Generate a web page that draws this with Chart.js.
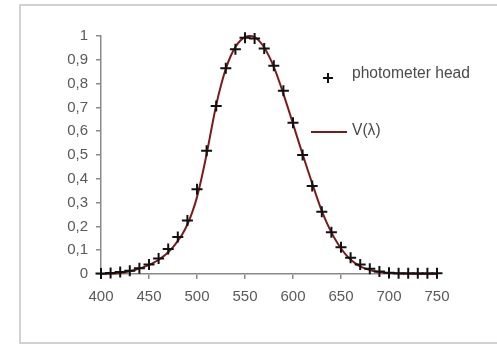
<!DOCTYPE html>
<html>
<head>
<meta charset="utf-8">
<script src="https://cdn.jsdelivr.net/npm/chart.js@4/dist/chart.umd.min.js"></script>
<style>
  html, body { margin: 0; padding: 0; background: #fff; overflow: hidden; }
  #frame { position: absolute; left: 19px; top: 4px; width: 500px; height: 336px; border: 2px solid #d2d2d2; }
  #c { position: absolute; left: 0; top: 0; }
</style>
</head>
<body>
<div id="frame"></div>
<canvas id="c" width="497" height="344"></canvas>
<script>
// Wavelengths (nm) of the photometer-head measurements
const headWavelengths = [400,410,420,430,440,450,460,470,480,490,500,510,520,530,540,550,560,570,580,590,600,610,620,630,640,650,660,670,680,690,700,710,720,730,740,750];
// Relative response of the photometer head
const headValues = [0.002,0.004,0.008,0.014,0.024,0.04,0.065,0.105,0.155,0.225,0.356,0.518,0.706,0.864,0.944,0.993,0.99,0.948,0.875,0.77,0.636,0.5,0.37,0.262,0.175,0.112,0.068,0.04,0.022,0.011,0.005,0.003,0.003,0.003,0.003,0.003];
// V(lambda) curve wavelengths (nm) and values
const vWavelengths = [400,405,410,415,420,425,430,435,440,445,450,455,460,465,470,475,480,485,490,495,500,505,510,515,520,525,530,535,540,545,550,555,560,565,570,575,580,585,590,595,600,605,610,615,620,625,630,635,640,645,650,655,660,665,670,675,680,685,690,695,700,710,720,730,740,750];
const vValues = [0.0004,0.0006,0.0012,0.0022,0.004,0.0073,0.0116,0.0168,0.023,0.0298,0.038,0.048,0.06,0.0739,0.091,0.1126,0.139,0.1693,0.208,0.2586,0.323,0.4073,0.503,0.6082,0.71,0.7932,0.862,0.9149,0.954,0.9803,0.995,1.0,0.995,0.9786,0.952,0.9154,0.87,0.8163,0.757,0.6949,0.631,0.5668,0.503,0.4412,0.381,0.321,0.265,0.217,0.175,0.1382,0.107,0.0816,0.061,0.0446,0.032,0.0232,0.017,0.0119,0.0082,0.0057,0.0041,0.0021,0.001,0.0005,0.0003,0.0001];
// Axis tick values
const xTicks = [400,450,500,550,600,650,700,750];
const yTicks = [0,0.1,0.2,0.3,0.4,0.5,0.6,0.7,0.8,0.9,1];
const seriesLabels = ['photometer head', 'V(\u03bb)'];

const headPts = headWavelengths.map((x, i) => ({x, y: headValues[i]}));
const vPts = vWavelengths.map((x, i) => ({x, y: vValues[i]}));

const tickFont = { family: 'Liberation Sans, Arial, sans-serif', size: 15 };
const tickColor = '#5a5a5a';
const axisColor = '#8a8a8a';

const legendPlugin = {
  id: 'customLegend',
  afterDraw(chart) {
    const ctx = chart.ctx;
    const ds = chart.data.datasets;
    ctx.save();
    // marker
    ctx.strokeStyle = '#111';
    ctx.lineWidth = 2;
    const mx = 328, my = 78, r = 5;
    ctx.beginPath();
    ctx.moveTo(mx - r, my); ctx.lineTo(mx + r, my);
    ctx.moveTo(mx, my - r); ctx.lineTo(mx, my + r);
    ctx.stroke();
    // line sample
    ctx.strokeStyle = ds[1].borderColor;
    ctx.lineWidth = 2;
    ctx.beginPath();
    ctx.moveTo(311, 132); ctx.lineTo(347, 132);
    ctx.stroke();
    ctx.fillStyle = '#4a4a4a';
    ctx.font = '15.6px Liberation Sans, Arial, sans-serif';
    ctx.textBaseline = 'middle';
    ctx.textAlign = 'left';
    ctx.fillText(ds[0].label, 352, 74);
    ctx.fillText(ds[1].label, 352, 131);
    ctx.restore();
  }
};

new Chart(document.getElementById('c'), {
  type: 'scatter',
  data: {
    datasets: [
      {
        label: seriesLabels[0],
        data: headPts,
        showLine: false,
        pointStyle: 'cross',
        pointRadius: 5.5,
        pointBorderWidth: 2,
        borderColor: '#111',
        backgroundColor: '#111',
        clip: false
      },
      {
        label: seriesLabels[1],
        data: vPts,
        showLine: true,
        borderColor: '#7d1b1b',
        borderWidth: 2,
        pointRadius: 0,
        tension: 0.3,
        cubicInterpolationMode: 'monotone',
        clip: false
      }
    ]
  },
  options: {
    responsive: false,
    animation: false,
    events: [],
    layout: { padding: { left: 0, top: 36, right: 60, bottom: 0 } },
    plugins: { legend: { display: false }, tooltip: { enabled: false } },
    scales: {
      x: {
        type: 'linear',
        min: 400, max: 750,
        afterBuildTicks(s) { s.ticks = xTicks.map(v => ({value: v})); },
        afterFit(s) { s.height = 70; },
        grid: { drawOnChartArea: false, drawTicks: true, tickLength: 5, color: axisColor, lineWidth: 1.5 },
        border: { display: true, color: axisColor, width: 1.5 },
        ticks: { color: tickColor, font: tickFont, padding: 9, maxRotation: 0, autoSkip: false }
      },
      y: {
        min: 0, max: 1,
        afterBuildTicks(s) { s.ticks = yTicks.map(v => ({value: v})); },
        afterFit(s) { s.width = 101; },
        grid: { drawOnChartArea: false, drawTicks: true, tickLength: 5, color: axisColor, lineWidth: 1.5 },
        border: { display: true, color: axisColor, width: 1.5 },
        ticks: {
          color: tickColor, font: tickFont, padding: 8, autoSkip: false,
          callback: v => String(Math.round(v * 10) / 10).replace('.', ',')
        }
      }
    }
  },
  plugins: [legendPlugin]
});
</script>
</body>
</html>
